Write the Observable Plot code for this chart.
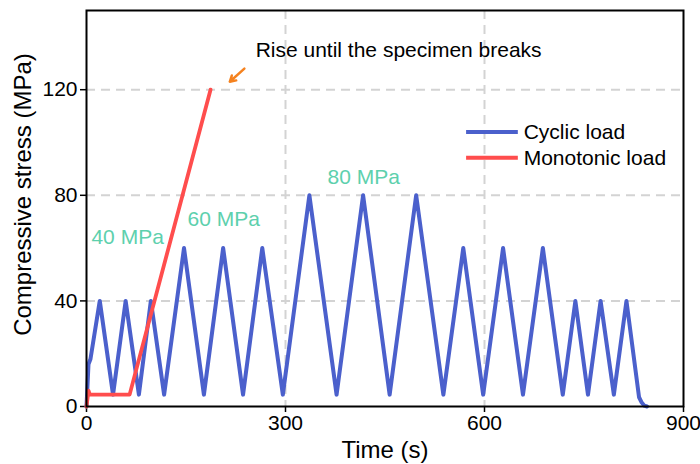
<!DOCTYPE html>
<html>
<head>
<meta charset="utf-8">
<script src="https://cdn.jsdelivr.net/npm/d3@7"></script>
<script src="https://cdn.jsdelivr.net/npm/@observablehq/plot@0.6"></script>
<style>
  html, body { margin: 0; padding: 0; background: #fff; }
  #chart { width: 700px; height: 464px; }
</style>
</head>
<body>
<div id="chart"></div>
<script>
// ---- data ----
const cyclicTime = [0, 3, 6, 20, 40, 59, 79, 97, 117, 147, 177, 206, 236, 265, 296, 336, 377, 417, 457, 497, 538, 568, 598, 628, 658, 688, 718, 737, 756, 775, 795, 814, 833, 837, 841, 845];
const cyclicStress = [0, 16, 18, 40, 4.5, 40, 4.5, 40, 4.5, 60, 4.5, 60, 4.5, 60, 4.5, 80, 4.5, 80, 4.5, 80, 4.5, 60, 4.5, 60, 4.5, 60, 4.5, 40, 4.5, 40, 4.5, 40, 3.5, 1.5, 0.3, 0];
const monotonicTime = [0, 3, 5, 65, 187];
const monotonicStress = [0, 6, 4.5, 4.5, 120];
const xTicks = [0, 300, 600, 900];
const yTicks = [0, 40, 80, 120];
const gridX = [300, 600];
const gridY = [40, 80, 120];
const seriesNames = ["Cyclic load", "Monotonic load"];
const levelLabels = ["40 MPa", "60 MPa", "80 MPa"];
const noteText = "Rise until the specimen breaks";
const xTitle = "Time (s)";
const yTitle = "Compressive stress (MPa)";

// ---- layout / style ----
const blue = "#4b60cc";
const red = "#ff4d4d";
const teal = "#5dd0ad";
const orange = "#f5821f";
const levelPos = [{x: 62, y: 64}, {x: 207, y: 71}, {x: 418, y: 87}];
const legendPos = [{x1: 573, x2: 651, tx: 659, y: 104}, {x1: 573, x2: 651, tx: 659, y: 94.2}];

const cyclic = cyclicTime.map((t, i) => ({t, v: cyclicStress[i]}));
const mono = monotonicTime.map((t, i) => ({t, v: monotonicStress[i]}));
const levels = levelLabels.map((s, i) => ({s, ...levelPos[i]}));
const legend = seriesNames.map((s, i) => ({s, color: i === 0 ? blue : red, ...legendPos[i]}));

const chart = Plot.plot({
  width: 700,
  height: 464,
  marginLeft: 86,
  marginRight: 17,
  marginTop: 10,
  marginBottom: 58,
  x: {domain: [0, 900]},
  y: {domain: [0, 150]},
  style: {fontFamily: "'Liberation Sans', Arial, sans-serif", fontSize: "21px", color: "#000", background: "#fff"},
  marks: [
    Plot.ruleX(gridX, {stroke: "#d3d3d3", strokeWidth: 2, strokeDasharray: "9,6"}),
    Plot.ruleY(gridY, {stroke: "#d3d3d3", strokeWidth: 2, strokeDasharray: "9,6"}),
    Plot.axisX({ticks: xTicks, tickSize: 6, tickPadding: 3, label: null, fontSize: 21, strokeWidth: 1.5, tickFormat: d => String(d)}),
    Plot.axisY({ticks: yTicks, tickSize: 6, tickPadding: 3, label: null, fontSize: 21, strokeWidth: 1.5, tickFormat: d => String(d)}),
    Plot.line(cyclic, {x: "t", y: "v", stroke: blue, strokeWidth: 4}),
    Plot.line(mono, {x: "t", y: "v", stroke: red, strokeWidth: 3.8}),
    Plot.frame({stroke: "#000", strokeWidth: 2}),
    Plot.text(levels, {x: "x", y: "y", text: "s", fill: teal, fontSize: 21}),
    Plot.text([noteText], {x: 255, y: 135, text: d => d, textAnchor: "start", fontSize: 21, fill: "#000"}),
    Plot.arrow([0], {x1: 238, y1: 128, x2: 216, y2: 123, stroke: orange, strokeWidth: 2.5, headLength: 7, bend: false}),
    Plot.ruleY(legend, {x1: "x1", x2: "x2", y: "y", stroke: "color", strokeWidth: 4}),
    Plot.text(legend, {x: "tx", y: "y", text: "s", textAnchor: "start", fontSize: 21, fill: "#000"}),
    Plot.text([xTitle], {frameAnchor: "bottom", text: d => d, dy: 44, lineAnchor: "middle", textAnchor: "middle", fontSize: 24}),
    Plot.text([yTitle], {frameAnchor: "left", text: d => d, dx: -63, dy: -14, rotate: -90, lineAnchor: "middle", textAnchor: "middle", fontSize: 24})
  ]
});
document.getElementById("chart").appendChild(chart);
</script>
</body>
</html>
